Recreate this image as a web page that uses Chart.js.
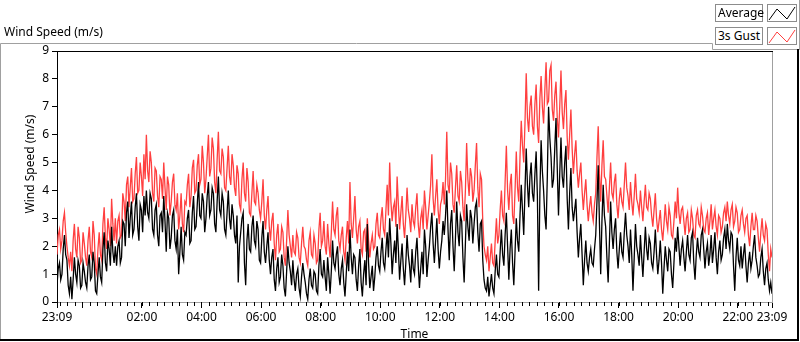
<!DOCTYPE html>
<html lang="en">
<head>
    <meta charset="UTF-8">
    <title>Wind Speed</title>
    <style>
        body {
            margin: 0;
            background: #fff;
            font-family: "Noto Sans", sans-serif;
            font-size: 12px;
            color: #000;
        }
        .panel {
            position: relative;
            width: 800px;
            height: 342px;
        }
        .panel canvas {
            position: absolute;
            left: 0;
            top: 0;
        }
        .graph-label {
            position: absolute;
            left: 4px;
            top: 24px;
            line-height: 16px;
        }
        .leg-name, .leg-line {
            position: absolute;
            box-sizing: border-box;
            height: 18px;
            border: 1px solid #8c8c8c;
            background: #fff;
        }
        .leg-name {
            left: 715px;
            width: 48px;
            padding-left: 2px;
            line-height: 15px;
        }
        .leg-line {
            left: 767px;
            width: 30px;
        }
        .leg-line svg {
            display: block;
        }
    </style>
</head>
<body>
    <div class="panel">
        <canvas id="windChart" width="800" height="342"></canvas>
        <div class="graph-label">Wind Speed (m/s)</div>

        <div class="leg-name" style="top:4px">Average</div>
        <div class="leg-line" style="top:4px">
            <svg width="28" height="16"><polyline points="1,15 9,4 19,14 27,2" fill="none" stroke="#000" stroke-width="1"/></svg>
        </div>
        <div class="leg-name" style="top:27px">3s Gust</div>
        <div class="leg-line" style="top:27px">
            <svg width="28" height="16"><polyline points="1,15 9,4 19,14 27,2" fill="none" stroke="#ff3f3f" stroke-width="1"/></svg>
        </div>
    </div>

    <script src="https://cdn.jsdelivr.net/npm/chart.js"></script>
    <script>
        // one reading every 2.5 minutes, starting 23:09
        const sampleMinutes = 2.5;

        // average wind speed (m/s), one row per hour
        const avgSpeed = [
            0.6, 1.2, 1.4, 0.8, 1.0, 1.9, 2.4, 1.7, 1.5, 0.6, 0.3, 0.9, 0.1, 0.8, 1.6, 1.0, 0.7, 1.5, 1.3, 0.5, 0.6, 1.4, 1.1, 0.7,
            0.5, 1.3, 1.7, 0.8, 0.9, 1.8, 1.4, 0.4, 0.3, 1.0, 1.6, 0.9, 0.7, 1.9, 2.5, 1.4, 1.1, 2.2, 1.9, 1.3, 2.7, 1.8, 1.4, 2.0,
            1.3, 2.0, 2.2, 1.4, 1.6, 2.9, 2.8, 2.0, 3.2, 3.6, 2.3, 3.0, 3.6, 2.4, 2.6, 3.4, 3.9, 2.7, 2.2, 3.5, 3.3, 2.5, 3.8, 3.1,
            4.0, 3.2, 3.0, 3.9, 3.7, 2.6, 2.4, 3.3, 3.5, 2.4, 2.0, 3.1, 3.2, 2.5, 3.8, 2.9, 1.8, 3.2, 3.0, 1.9, 2.3, 3.1, 3.3, 2.2,
            1.9, 2.6, 1.0, 1.8, 2.7, 1.7, 1.5, 2.5, 2.4, 3.0, 3.3, 2.1, 2.2, 3.2, 3.8, 2.6, 2.7, 3.5, 4.3, 3.1, 3.0, 3.9, 3.6, 2.5,
            3.0, 3.8, 4.3, 3.1, 3.3, 4.1, 3.9, 2.8, 2.5, 3.6, 4.5, 3.3, 3.1, 3.9, 3.6, 2.6, 2.4, 3.2, 4.0, 3.0, 2.6, 3.5, 3.1, 2.4,
            2.1, 3.1, 0.7, 2.0, 2.5, 3.0, 3.2, 1.4, 0.6, 2.2, 2.8, 1.9, 1.8, 2.7, 3.1, 2.2, 2.0, 2.9, 2.6, 1.5, 1.4, 2.3, 2.9, 1.8,
            1.4, 2.0, 2.5, 1.5, 1.0, 1.6, 1.9, 0.8, 0.4, 1.2, 1.6, 0.7, 0.9, 1.7, 1.3, 0.5, 0.2, 1.1, 2.0, 1.4, 1.1, 0.6, 1.5, 0.8,
            0.4, 1.0, 1.2, 0.5, 0.2, 0.9, 1.4, 1.0, 0.7, 0.3, 0.1, 0.8, 1.2, 0.6, 0.5, 1.1, 1.0, 0.4, 0.3, 1.3, 1.9, 1.0, 0.9, 1.5,
            0.9, 0.4, 1.6, 1.0, 0.3, 1.1, 2.2, 1.4, 1.2, 1.7, 2.0, 1.0, 0.6, 1.2, 1.5, 0.7, 0.2, 1.0, 1.8, 1.1, 2.6, 1.6, 1.0, 1.7,
            1.6, 0.8, 0.4, 1.3, 1.9, 0.7, 0.2, 1.0, 1.5, 0.6, 2.8, 1.4, 0.5, 0.9, 1.3, 0.4, 0.9, 1.6, 2.0, 1.3, 1.1, 1.8, 2.3, 1.4,
            1.2, 1.9, 2.5, 1.6, 3.0, 2.1, 1.0, 1.7, 2.2, 1.4, 2.8, 1.9, 0.8, 1.5, 2.1, 1.2, 0.6, 1.4, 2.4, 1.7, 1.3, 0.7, 1.9, 1.2,
            1.0, 1.8, 2.3, 1.3, 0.5, 1.2, 1.8, 1.0, 2.6, 2.0, 0.9, 1.5, 2.0, 2.7, 3.2, 2.1, 1.4, 2.2, 3.0, 1.9, 1.2, 1.8, 2.2, 2.9,
            2.4, 3.1, 4.0, 2.6, 1.5, 2.8, 3.3, 2.0, 1.1, 2.3, 3.6, 2.5, 2.0, 3.1, 2.9, 1.6, 0.7, 2.1, 3.5, 2.7, 2.2, 3.3, 3.0, 2.1,
            2.8, 3.4, 3.6, 2.5, 1.8, 2.8, 2.9, 1.5, 0.8, 0.5, 0.4, 0.9, 0.2, 0.6, 1.0, 0.5, 0.3, 1.1, 1.7, 1.0, 0.9, 1.8, 2.6, 1.7,
            1.3, 2.4, 3.2, 2.0, 0.8, 1.9, 2.6, 1.4, 0.6, 1.8, 3.0, 2.2, 1.8, 3.1, 4.2, 3.3, 2.4, 4.0, 5.5, 4.2, 3.4, 4.5, 5.0, 3.9,
            3.6, 4.6, 5.4, 3.8, 0.4, 3.9, 5.8, 4.7, 4.0, 3.1, 2.6, 4.5, 7.0, 5.9, 5.2, 4.1, 4.4, 5.5, 6.6, 4.8, 3.1, 4.6, 5.9, 4.5,
            4.1, 5.0, 5.6, 3.7, 2.6, 3.9, 4.8, 3.4, 2.9, 3.3, 3.7, 2.5, 1.6, 2.3, 2.8, 1.7, 0.6, 1.5, 2.2, 1.4, 1.1, 1.6, 1.9, 1.4,
            1.3, 1.9, 2.4, 3.6, 4.9, 2.8, 1.0, 2.9, 4.2, 3.1, 2.7, 1.6, 0.7, 2.1, 3.6, 2.5, 1.9, 2.6, 3.0, 1.8, 1.2, 1.9, 2.5, 1.8,
            1.6, 2.5, 3.2, 2.4, 2.0, 1.4, 2.6, 1.7, 0.4, 1.6, 2.8, 2.0, 1.7, 1.3, 2.4, 1.6, 0.9, 1.8, 2.7, 1.9, 1.5, 2.3, 2.1, 1.4,
            1.2, 1.8, 2.6, 1.7, 1.0, 1.5, 2.2, 1.4, 0.3, 1.2, 2.0, 1.5, 1.1, 1.9, 1.8, 1.0, 0.5, 1.4, 2.3, 1.8, 2.7, 2.0, 1.3, 1.9,
            2.2, 1.6, 1.1, 1.8, 2.4, 1.7, 1.5, 2.3, 2.5, 1.4, 0.8, 1.7, 2.3, 1.8, 1.6, 2.4, 2.6, 1.9, 1.2, 1.8, 2.1, 1.3, 1.7, 2.4,
            1.4, 1.9, 2.5, 1.6, 1.0, 1.8, 2.2, 1.5, 1.7, 2.3, 2.6, 1.9, 2.8, 2.2, 1.9, 2.5, 2.4, 1.3, 0.4, 1.6, 2.3, 1.5, 1.3, 2.0,
            1.2, 1.7, 2.1, 1.3, 0.7, 1.4, 1.8, 1.2, 1.5, 2.0, 2.4, 1.6, 1.3, 0.9, 1.0, 1.6, 1.9, 1.1, 0.6, 1.2, 1.4, 0.8, 0.4, 0.7, 0.3
        ];

        // 3 second gust (m/s)
        const gustSpeed = [
            1.7, 2.4, 2.6, 1.9, 2.2, 2.9, 3.2, 2.5, 2.0, 1.6, 1.3, 1.8, 1.1, 2.2, 2.8, 1.9, 1.6, 2.7, 2.3, 1.4, 1.5, 2.5, 2.1, 1.6,
            1.3, 2.2, 2.7, 1.8, 1.6, 2.9, 2.4, 1.2, 1.0, 1.9, 2.5, 1.7, 1.5, 2.8, 3.4, 2.3, 1.9, 3.0, 2.6, 2.0, 3.7, 2.8, 2.2, 3.0,
            2.1, 2.9, 3.1, 2.3, 2.4, 3.9, 3.6, 2.9, 4.2, 4.5, 3.4, 4.1, 4.8, 3.6, 3.7, 4.6, 5.2, 3.9, 4.0, 5.0, 4.5, 3.8, 5.3, 4.4,
            6.0, 4.7, 4.3, 5.4, 5.0, 3.9, 3.6, 4.8, 4.7, 3.8, 3.4, 4.5, 4.4, 3.7, 5.0, 4.1, 3.3, 4.5, 4.2, 3.1, 3.6, 4.3, 4.6, 3.5,
            3.3, 3.9, 2.6, 3.1, 3.9, 2.8, 2.5, 3.6, 3.5, 4.2, 4.6, 3.4, 3.8, 4.8, 5.1, 3.9, 4.0, 4.9, 5.3, 4.2, 4.4, 5.6, 5.0, 3.9,
            4.4, 5.2, 6.0, 4.5, 4.8, 5.9, 5.5, 4.3, 3.9, 5.1, 6.1, 4.7, 4.6, 5.5, 5.2, 4.1, 4.0, 4.8, 5.6, 4.5, 4.2, 5.3, 4.9, 4.1,
            3.8, 4.9, 4.6, 3.5, 3.3, 4.4, 5.0, 3.9, 3.6, 4.8, 4.3, 3.2, 3.1, 3.9, 4.7, 3.6, 3.5, 4.2, 3.9, 3.3, 3.0, 3.6, 4.4, 3.1,
            2.6, 3.3, 3.8, 2.7, 2.2, 2.9, 3.2, 2.1, 1.5, 2.4, 2.8, 1.8, 1.9, 2.7, 2.5, 1.6, 1.3, 2.2, 3.3, 2.4, 2.0, 1.6, 2.4, 1.8,
            1.7, 2.5, 2.3, 1.6, 1.4, 2.1, 2.7, 2.0, 1.9, 1.5, 1.3, 2.2, 2.5, 1.7, 1.6, 2.4, 2.1, 1.4, 1.5, 2.6, 3.2, 2.0, 2.2, 2.9,
            2.0, 1.7, 2.8, 2.1, 1.6, 2.5, 3.6, 2.6, 2.4, 3.1, 3.4, 2.2, 1.9, 2.4, 2.7, 1.8, 1.5, 2.3, 2.9, 2.1, 4.3, 2.8, 2.3, 3.0,
            3.8, 2.6, 2.1, 2.7, 2.9, 1.9, 1.7, 2.5, 2.6, 1.8, 3.0, 2.2, 1.6, 2.1, 2.4, 1.9, 2.0, 2.8, 3.2, 2.4, 2.3, 3.0, 3.4, 2.6,
            2.4, 3.3, 4.2, 3.1, 5.0, 3.6, 2.9, 3.4, 3.6, 2.7, 4.5, 3.5, 2.6, 3.2, 3.8, 2.8, 2.3, 3.1, 4.1, 3.3, 3.0, 2.5, 3.5, 2.9,
            2.7, 3.4, 3.9, 2.8, 2.3, 3.0, 3.3, 2.6, 4.0, 3.4, 2.6, 3.1, 3.6, 4.2, 5.3, 3.7, 3.1, 3.8, 4.4, 3.3, 2.8, 3.5, 3.7, 4.3,
            3.5, 4.4, 6.1, 4.2, 3.9, 5.0, 4.6, 3.5, 3.2, 4.1, 4.9, 3.8, 3.6, 4.7, 4.3, 3.4, 2.9, 4.0, 5.7, 4.4, 3.8, 4.8, 4.5, 3.6,
            4.0, 4.9, 5.7, 4.1, 3.4, 4.6, 4.4, 2.9, 2.0, 1.7, 1.5, 2.0, 1.1, 1.6, 2.1, 1.4, 1.3, 2.2, 3.0, 2.1, 2.4, 3.3, 4.0, 3.1,
            2.9, 4.3, 5.6, 4.0, 3.3, 4.2, 4.6, 3.1, 2.8, 4.0, 5.4, 4.1, 3.6, 5.2, 6.5, 5.6, 5.0, 6.4, 8.2, 6.6, 6.1, 7.0, 7.4, 6.3,
            6.0, 7.1, 7.8, 6.3, 5.7, 7.3, 8.1, 7.0, 6.4, 7.6, 8.6, 7.1, 7.2, 8.3, 8.5, 6.9, 6.5, 7.4, 7.9, 6.6, 5.9, 7.0, 8.3, 6.8,
            6.2, 7.1, 7.6, 5.9, 5.1, 6.0, 6.9, 5.5, 4.6, 5.3, 5.8, 4.7, 4.1, 4.6, 5.0, 4.0, 3.3, 3.9, 4.4, 3.5, 2.9, 3.4, 3.8, 3.2,
            2.9, 3.5, 3.9, 5.2, 6.3, 4.6, 3.6, 4.9, 5.8, 4.5, 4.4, 3.8, 3.2, 4.1, 5.0, 3.9, 3.7, 4.3, 4.6, 3.5, 3.0, 3.7, 4.1, 3.6,
            3.4, 4.2, 5.0, 4.1, 3.8, 3.3, 4.3, 3.6, 3.1, 3.8, 4.6, 3.7, 3.5, 3.2, 4.0, 3.4, 2.9, 3.6, 4.2, 3.4, 3.3, 3.9, 3.7, 3.1,
            2.7, 3.3, 3.9, 3.0, 2.5, 2.9, 3.3, 2.6, 2.2, 2.8, 3.5, 2.9, 2.6, 3.4, 3.1, 2.4, 2.3, 2.9, 3.6, 3.0, 4.1, 3.2, 2.8, 3.3,
            3.4, 2.9, 2.4, 3.0, 3.2, 2.5, 2.6, 3.3, 3.0, 2.4, 2.3, 3.1, 3.3, 2.8, 2.7, 3.4, 3.1, 2.6, 2.5, 3.0, 3.2, 2.4, 2.9, 3.5,
            2.6, 3.0, 3.3, 2.7, 2.4, 3.1, 3.0, 2.5, 2.7, 3.2, 3.4, 2.9, 3.6, 3.1, 2.8, 3.3, 3.5, 2.7, 2.9, 3.4, 3.2, 2.5, 2.6, 3.1,
            3.3, 2.8, 2.5, 3.0, 3.1, 2.4, 2.0, 2.7, 3.2, 2.6, 2.6, 3.1, 2.9, 2.3, 1.8, 2.5, 3.0, 2.4, 2.2, 2.8, 2.6, 1.7, 1.1, 1.9, 1.6
        ];

        // x axis: minutes after 23:09
        const tickMinutes = [0, 51, 171, 291, 411, 531, 651, 771, 891, 1011, 1131, 1251, 1371, 1440];
        const tickLabels = ['23:09', '', '02:00', '04:00', '06:00', '08:00', '10:00', '12:00',
                            '14:00', '16:00', '18:00', '20:00', '22:00', '23:09'];
        const minorFirst = 6;   // 23:15
        const minorStep = 15;

        const labelFont = { family: '"Noto Sans", sans-serif', size: 12 };

        function toPoints(values) {
            return values.map((v, i) => ({ x: i * sampleMinutes, y: v }));
        }

        // frame, plot border, minor ticks and y title
        const panelPlugin = {
            id: 'panel',
            afterDraw(chart) {
                const ctx = chart.ctx;
                const area = chart.chartArea;
                const xScale = chart.scales.x;
                ctx.save();
                ctx.lineWidth = 1;

                ctx.strokeStyle = '#a0a0a0';
                ctx.beginPath();
                ctx.moveTo(0.5, 341);
                ctx.lineTo(0.5, 43.5);
                ctx.lineTo(712.5, 43.5);
                ctx.lineTo(712.5, 49.5);
                ctx.lineTo(800, 49.5);
                ctx.moveTo(799.5, 0);
                ctx.lineTo(799.5, 49.5);
                ctx.stroke();

                ctx.fillStyle = '#000';
                ctx.fillRect(797, 49, 2, 292);
                ctx.fillRect(0, 339, 799, 2);

                // plot area top (black) and right (grey)
                ctx.strokeStyle = '#000';
                ctx.beginPath();
                ctx.moveTo(area.left, Math.round(area.top) + 0.5);
                ctx.lineTo(area.right + 1, Math.round(area.top) + 0.5);
                ctx.stroke();
                ctx.strokeStyle = '#a0a0a0';
                ctx.beginPath();
                ctx.moveTo(Math.round(area.right) + 0.5, area.top + 1);
                ctx.lineTo(Math.round(area.right) + 0.5, area.bottom + 1);
                ctx.stroke();

                // minor ticks every 15 minutes
                ctx.strokeStyle = '#000';
                ctx.beginPath();
                for (let m = minorFirst; m < 1440; m += minorStep) {
                    const px = Math.round(xScale.getPixelForValue(m)) + 0.5;
                    ctx.moveTo(px, area.bottom);
                    ctx.lineTo(px, area.bottom + 4);
                }
                ctx.stroke();

                // y axis title
                ctx.fillStyle = '#000';
                ctx.font = '12px "Noto Sans", sans-serif';
                ctx.textAlign = 'center';
                ctx.textBaseline = 'middle';
                ctx.translate(31, 164);
                ctx.rotate(-Math.PI / 2);
                ctx.fillText('Wind Speed (m/s)', 0, 0);
                ctx.restore();
            }
        };

        new Chart(document.getElementById('windChart'), {
            type: 'line',
            data: {
                datasets: [
                    {
                        label: 'Average',
                        data: toPoints(avgSpeed),
                        borderColor: '#000',
                        borderWidth: 1.3,
                        pointRadius: 0,
                        tension: 0
                    },
                    {
                        label: '3s Gust',
                        data: toPoints(gustSpeed),
                        borderColor: '#ff3f3f',
                        borderWidth: 1.3,
                        pointRadius: 0,
                        tension: 0
                    }
                ]
            },
            options: {
                responsive: false,
                animation: false,
                layout: { padding: { top: 51, right: 28, left: 0, bottom: 0 } },
                plugins: {
                    legend: { display: false },
                    tooltip: { enabled: false }
                },
                scales: {
                    x: {
                        type: 'linear',
                        min: 0,
                        max: 1440,
                        afterBuildTicks: (scale) => {
                            scale.ticks = tickMinutes.map(v => ({ value: v }));
                        },
                        afterFit: (scale) => { scale.height = 40; },
                        ticks: {
                            autoSkip: false,
                            maxRotation: 0,
                            padding: 2,
                            color: '#000',
                            font: labelFont,
                            callback: (value, index) => tickLabels[index]
                        },
                        grid: { drawOnChartArea: false, tickLength: 6, tickColor: '#000' },
                        border: { color: '#a0a0a0' },
                        title: {
                            display: true,
                            text: 'Time',
                            color: '#000',
                            font: labelFont,
                            padding: { top: 0, bottom: 0 }
                        }
                    },
                    y: {
                        min: 0,
                        max: 9,
                        afterFit: (scale) => { scale.width = 57; },
                        ticks: { stepSize: 1, padding: 3, color: '#000', font: labelFont },
                        grid: { drawOnChartArea: false, tickLength: 5, tickColor: '#000' },
                        border: { color: '#000' }
                    }
                }
            },
            plugins: [panelPlugin]
        });
    </script>
</body>
</html>
